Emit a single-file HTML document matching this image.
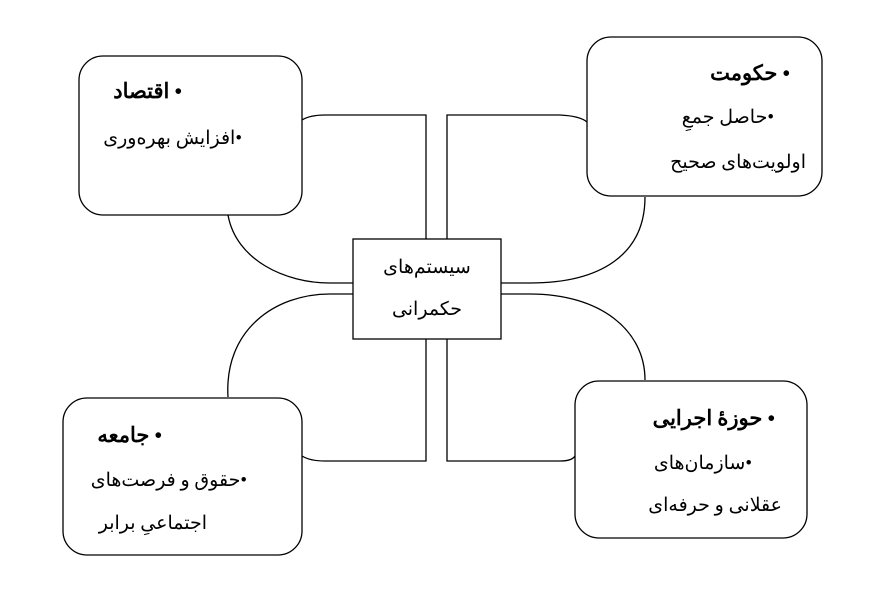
<!DOCTYPE html>
<html><head><meta charset="utf-8"><style>
body{margin:0;background:#fff;width:886px;height:615px;position:relative;overflow:hidden;font-family:"Liberation Serif","Noto Sans CJK SC",serif;}
.t{position:absolute;direction:rtl;white-space:nowrap;font-size:19px;color:#000;line-height:22px;}
.b{font-weight:bold;font-size:21px;}
svg{position:absolute;left:0;top:0}
</style></head><body>
<svg width="886" height="615" fill="none" stroke="#000" stroke-width="1.3">
<rect x="79" y="56" width="223" height="159" rx="24"/>
<rect x="587" y="37" width="235" height="159" rx="24"/>
<rect x="63" y="398" width="239" height="157" rx="24"/>
<rect x="575" y="381" width="232" height="157" rx="24"/>
<rect x="353" y="239" width="148" height="100"/>
<path d="M302,120 Q310,115 325,115 L426,115 L426,239"/>
<path d="M447,239 L447,115 L560,115 Q580,116 587,122"/>
<path d="M302,456 Q310,461 325,461 L426,461 L426,339"/>
<path d="M447,339 L447,461 L560,461 Q572,461 575,456"/>
<path d="M228,215 C236,260 285,283 330,283 L353,283"/>
<path d="M645,197 C645,255 600,283 530,283 L501,283"/>
<path d="M228,397 C224,330 275,294 330,294 L353,294"/>
<path d="M645,380 C645,330 600,294 530,294 L501,294"/>
</svg>
<div class="t b" style="right:704px;top:80px">• اقتصاد</div>
<div class="t" style="right:644px;top:128px">•افزایش بهره‌وری</div>
<div class="t b" style="right:96px;top:62px">• حکومت</div>
<div class="t" style="right:112px;top:107px">•حاصل جمعِ</div>
<div class="t" style="right:80px;top:152px">اولویت‌های صحیح</div>
<div class="t b" style="right:724px;top:424px">• جامعه</div>
<div class="t" style="right:639px;top:470px">•حقوق و فرصت‌های</div>
<div class="t" style="right:679px;top:513px">اجتماعیِ برابر</div>
<div class="t b" style="right:111px;top:407px">• حوزهٔ اجرایی</div>
<div class="t" style="right:134px;top:453px">•سازمان‌های</div>
<div class="t" style="right:104px;top:495px">عقلانی و حرفه‌ای</div>
<div class="t" style="left:353px;width:148px;text-align:center;top:257px">سیستم‌های</div>
<div class="t" style="left:353px;width:148px;text-align:center;top:299px">حکمرانی</div>
</body></html>
